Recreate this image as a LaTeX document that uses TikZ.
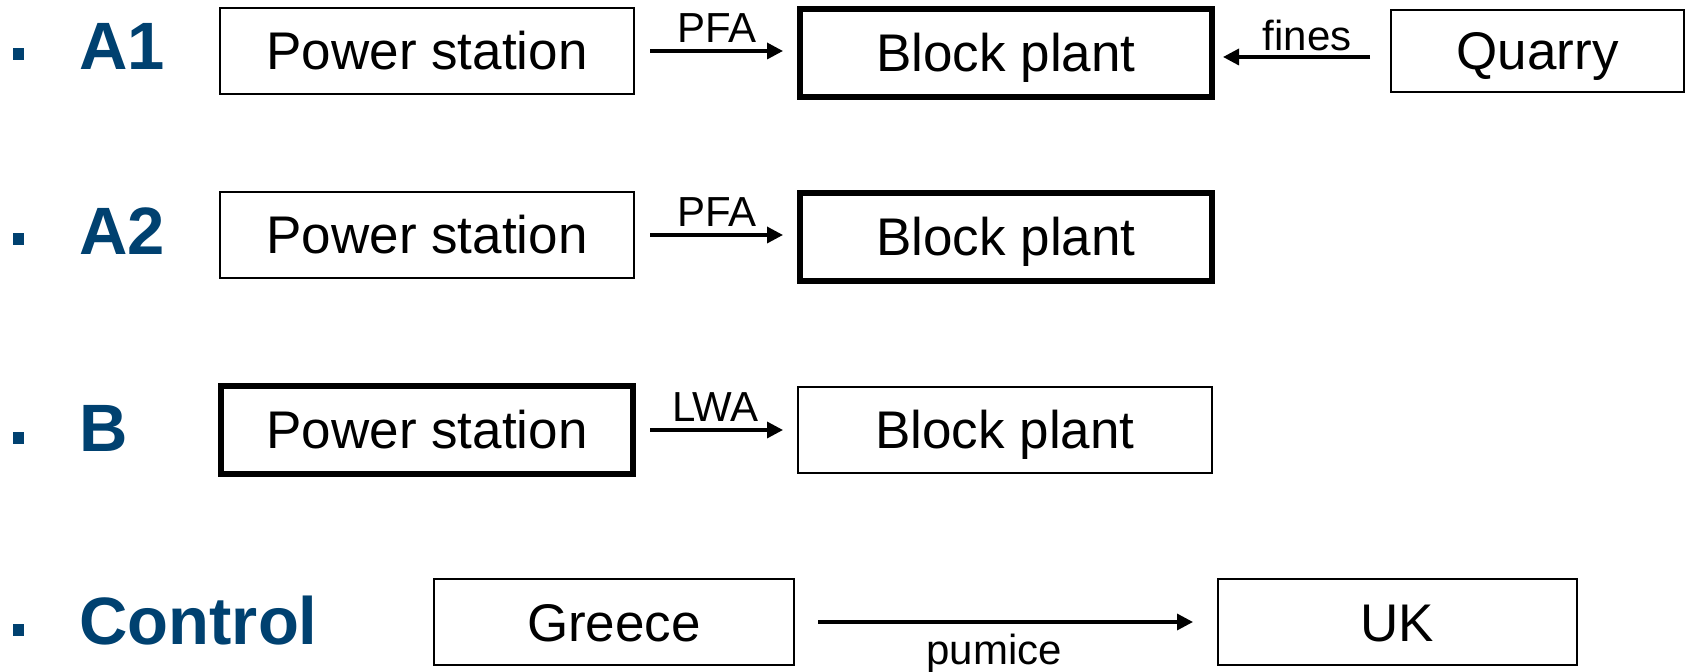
\documentclass[tikz,border=0pt]{standalone}
\usepackage{fontspec}
\setmainfont{Liberation Sans}
\usetikzlibrary{arrows.meta}
\definecolor{hdblue}{RGB}{0,65,112}
\tikzset{
  box/.style={draw, line width=0.7pt, outer sep=0pt, inner sep=0pt,
    minimum width=207pt, minimum height=43pt,
    font=\fontsize{26.5pt}{30pt}\selectfont, text height=19pt, text depth=0pt},
  thickbox/.style={box, line width=3pt, minimum width=206pt, minimum height=44pt},
  arr/.style={line width=1.7pt, -{Triangle[length=8pt,width=8pt]}},
  lbl/.style={font=\fontsize{21pt}{24pt}\selectfont, inner sep=0pt, anchor=base},
  rowlbl/.style={font=\fontsize{33.5pt}{36pt}\selectfont\bfseries, text=hdblue,
    inner sep=0pt, anchor=base west},
  bul/.style={fill=hdblue, inner sep=0pt, minimum size=5.8pt, outer sep=0pt}
}
\begin{document}
\begin{tikzpicture}[x=0.5pt, y=-0.5pt]
\useasboundingbox (0,0) rectangle (1696,672);
% row A1
\node[bul] (b1) at (18.5,54) {};
\node[rowlbl] (lA1) at (79,70) {A1};
\node[box] (ps1) at (427,51) {Power station};
\node[thickbox] (bp1) at (1006,53) {Block plant};
\node[box, minimum width=146.5pt, minimum height=41pt] (q1) at (1537.5,51) {Quarry};
\draw[arr, shorten <=8pt, shorten >=8.5pt] (ps1.east) -- node[lbl, yshift=4pt] {PFA} (ps1.east -| bp1.west);
\draw[arr, shorten <=10.5pt, shorten >=5.5pt] ([yshift=-3pt]q1.west) -- node[lbl, xshift=2.75pt, yshift=3.3pt] {fines} ([yshift=-3pt]q1.west -| bp1.east);
% row A2
\node[bul] (b2) at (18.5,239) {};
\node[rowlbl] (lA2) at (79,255) {A2};
\node[box] (ps2) at (427,235) {Power station};
\node[thickbox] (bp2) at (1006,237) {Block plant};
\draw[arr, shorten <=8pt, shorten >=8.5pt] (ps2.east) -- node[lbl, yshift=4pt] {PFA} (ps2.east -| bp2.west);
% row B
\node[bul] (b3) at (18.5,438) {};
\node[rowlbl] (lB) at (79,452) {B};
\node[thickbox] (ps3) at (427,430) {Power station};
\node[box] (bp3) at (1005,430) {Block plant};
\draw[arr, shorten <=8.5pt, shorten >=7.5pt] (ps3.east) -- node[lbl, yshift=4pt] {LWA} (bp3.west);
% row Control
\node[bul] (b4) at (18.5,630) {};
\node[rowlbl] (lC) at (79,645) {Control};
\node[box, minimum width=180pt] (gr) at (614,622) {Greece};
\node[box, minimum width=179.5pt] (uk) at (1397.5,622) {UK};
\draw[arr, shorten <=12pt, shorten >=12.5pt] (gr.east) -- node[lbl, xshift=-6pt, yshift=-21.5pt] {pumice} (uk.west);
\end{tikzpicture}
\end{document}
